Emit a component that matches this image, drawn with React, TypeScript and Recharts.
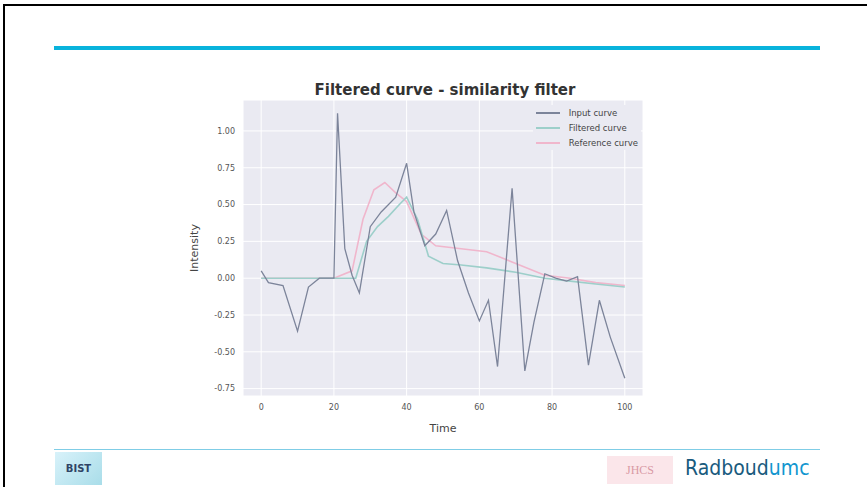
import { LineChart, Line, XAxis, YAxis, CartesianGrid } from "recharts";

// input (noisy) curve
const inputTimes = [0, 2, 6, 10, 13, 16, 20, 21, 23, 25, 27, 30, 33, 37, 40, 42, 45, 48, 51, 54, 57, 60, 62.5, 65, 69, 72.5, 75, 78, 81, 84, 87, 90, 93, 96, 100];
const inputValues = [0.05, -0.03, -0.05, -0.36, -0.06, 0.0, 0.0, 1.12, 0.2, 0.02, -0.1, 0.35, 0.45, 0.55, 0.78, 0.45, 0.22, 0.3, 0.46, 0.12, -0.1, -0.29, -0.15, -0.6, 0.61, -0.63, -0.3, 0.03, 0.0, -0.02, 0.01, -0.59, -0.15, -0.4, -0.68];

// filtered curve
const filteredTimes = [0, 10, 20, 26, 29, 32, 35, 38, 40, 43, 46, 50, 55, 62, 70, 78, 85, 92, 100];
const filteredValues = [0, 0, 0, 0, 0.25, 0.35, 0.42, 0.5, 0.55, 0.4, 0.15, 0.1, 0.09, 0.07, 0.04, 0.0, -0.02, -0.04, -0.06];

// reference curve
const referenceTimes = [0, 10, 20, 25, 28, 31, 34, 37, 40, 44, 48, 55, 62, 70, 78, 85, 92, 100];
const referenceValues = [0, 0, 0, 0.05, 0.4, 0.6, 0.65, 0.58, 0.52, 0.3, 0.22, 0.2, 0.18, 0.1, 0.02, 0.0, -0.03, -0.05];

const seriesNames = ["Input curve", "Filtered curve", "Reference curve"];
const seriesColors = ["#7c849a", "#9dcfca", "#f0b6cc"];

const xTicks = [0, 20, 40, 60, 80, 100];
const yTicks = [-0.75, -0.5, -0.25, 0, 0.25, 0.5, 0.75, 1.0];

const toPoints = (ts: number[], vs: number[]) => ts.map((t, i) => ({ t, v: vs[i] }));

const inputData = toPoints(inputTimes, inputValues);
const filteredData = toPoints(filteredTimes, filteredValues);
const referenceData = toPoints(referenceTimes, referenceValues);

// legend drawn as an overlay so it doesn't eat plot width
const LegendBox = () => (
  <div style={{ position: "absolute", right: 226, top: 105, background: "#eaeaf2", padding: "0 3px", fontFamily: "DejaVu Sans, sans-serif", fontSize: 8.5, color: "#444" }}>
    {seriesNames.map((name, i) => (
      <div key={name} style={{ display: "flex", alignItems: "center", height: 15 }}>
        <span style={{ display: "inline-block", width: 24, height: 2, background: seriesColors[i], marginRight: 9 }} />
        {name}
      </div>
    ))}
  </div>
);

export default function App() {
  return (
    <div style={{ position: "absolute", left: 0, top: 0, width: 867, height: 487, background: "#fff", overflow: "hidden" }}>
      {/* slide frame */}
      <div style={{ position: "absolute", left: 3, top: 4, right: 0, bottom: 0, borderTop: "2px solid #000", borderLeft: "2px solid #000" }} />
      <div style={{ position: "absolute", left: 54, top: 46, width: 766, height: 4, background: "#09b3dc" }} />
      <div style={{ position: "absolute", left: 54, top: 449, width: 766, height: 1, background: "#7fcde6" }} />

      {/* chart title */}
      <div style={{ position: "absolute", left: 175, top: 81, width: 540, textAlign: "center", fontFamily: "DejaVu Sans, sans-serif", fontWeight: "bold", fontSize: 15, color: "#333" }}>
        Filtered curve - similarity filter
      </div>

      <div style={{ position: "absolute", left: 175, top: 75, width: 475, height: 365 }}>
        <LineChart width={475} height={365} margin={{ top: 25, right: 7, bottom: 8, left: 10 }}>
          <CartesianGrid stroke="#fff" fill="#eaeaf2" strokeWidth={1} />
          <XAxis
            dataKey="t"
            type="number"
            domain={[-5, 105]}
            ticks={xTicks}
            tick={{ fontSize: 8, fill: "#555", fontFamily: "DejaVu Sans, sans-serif" }}
            axisLine={false}
            tickLine={false}
            tickSize={0}
            tickMargin={8}
            height={36}
            label={{ value: "Time", position: "insideBottom", offset: 0, fontSize: 11, fill: "#444", fontFamily: "DejaVu Sans, sans-serif" }}
          />
          <YAxis
            type="number"
            domain={[-0.8, 1.21]}
            ticks={yTicks}
            tickFormatter={(v: number) => v.toFixed(2)}
            tick={{ fontSize: 8, fill: "#555", fontFamily: "DejaVu Sans, sans-serif" }}
            axisLine={false}
            tickLine={false}
            tickSize={0}
            tickMargin={8}
            width={58}
            label={{ value: "Intensity", angle: -90, position: "insideLeft", offset: 9, fontSize: 11, fill: "#444", fontFamily: "DejaVu Sans, sans-serif", style: { textAnchor: "middle" } }}
          />
          <Line data={referenceData} dataKey="v" name={seriesNames[2]} stroke={seriesColors[2]} strokeWidth={1.6} dot={false} isAnimationActive={false} />
          <Line data={filteredData} dataKey="v" name={seriesNames[1]} stroke={seriesColors[1]} strokeWidth={1.6} dot={false} isAnimationActive={false} />
          <Line data={inputData} dataKey="v" name={seriesNames[0]} stroke={seriesColors[0]} strokeWidth={1.3} dot={false} isAnimationActive={false} />
        </LineChart>
      </div>
      <LegendBox />

      {/* footer logos */}
      <div style={{ position: "absolute", left: 55, top: 452, width: 47, height: 33, background: "linear-gradient(135deg, #d8f2fa, #a9dde9)", display: "flex", alignItems: "center", justifyContent: "center", fontFamily: "DejaVu Sans, sans-serif", fontWeight: "bold", fontSize: 10, color: "#2f4466" }}>
        BIST
      </div>
      <div style={{ position: "absolute", left: 607, top: 456, width: 66, height: 28, background: "#fbe6ea", display: "flex", alignItems: "center", justifyContent: "center", fontFamily: "Liberation Serif, serif", fontSize: 12, color: "#d99aa5" }}>
        JHCS
      </div>
      <div style={{ position: "absolute", left: 685, top: 455, fontFamily: "'Liberation Sans Narrow', 'DejaVu Sans Condensed', sans-serif", fontSize: 21, lineHeight: "26px" }}>
        <span style={{ color: "#195b7e" }}>Radboud</span>
        <span style={{ color: "#1296cf" }}>umc</span>
      </div>
    </div>
  );
}
